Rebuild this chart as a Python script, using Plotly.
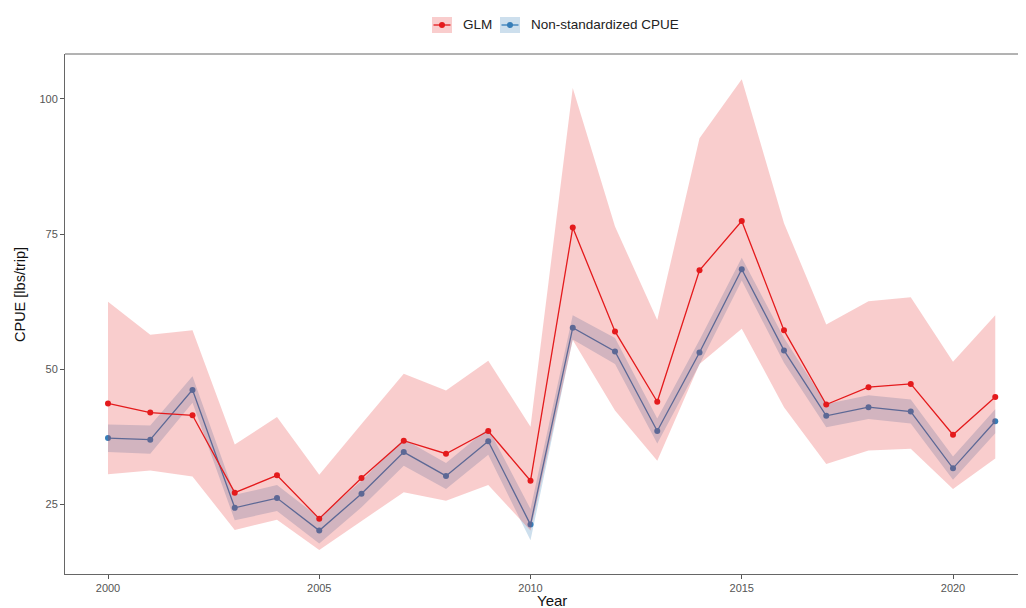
import plotly.graph_objects as go

years = list(range(2000, 2022))

glm = [43.7, 42.0, 41.5, 27.2, 30.4, 22.4, 29.9, 36.8, 34.4, 38.6, 29.4,
       76.2, 57.0, 44.0, 68.3, 77.4, 57.2, 43.5, 46.7, 47.3, 37.9, 44.9]
glm_lower = [30.6, 31.3, 30.2, 20.3, 22.2, 16.6, 21.9, 27.3, 25.7, 28.6, 20.2,
             55.4, 42.4, 33.1, 51.0, 57.5, 43.0, 32.5, 35.0, 35.3, 27.9, 33.5]
glm_upper = [62.5, 56.4, 57.2, 36.1, 41.2, 30.5, 39.9, 49.2, 46.1, 51.6, 39.4,
             102.0, 76.4, 59.1, 92.7, 103.6, 77.0, 58.3, 62.6, 63.3, 51.4, 60.0]

nominal = [37.3, 37.0, 46.2, 24.4, 26.2, 20.2, 27.0, 34.7, 30.3, 36.7, 21.3,
           57.7, 53.3, 38.6, 53.1, 68.5, 53.5, 41.4, 43.0, 42.2, 31.7, 40.4]
nominal_lower = [34.7, 34.4, 43.8, 22.1, 23.8, 17.8, 24.5, 32.2, 27.9, 34.2, 18.4,
                 55.5, 51.0, 36.3, 50.9, 66.4, 51.2, 39.3, 40.8, 40.0, 29.6, 38.2]
nominal_upper = [39.8, 39.6, 48.7, 26.8, 28.6, 22.6, 29.4, 37.1, 32.7, 39.1, 24.2,
                 60.0, 55.8, 40.9, 55.4, 70.6, 55.8, 43.6, 45.2, 44.4, 33.9, 42.6]

x_ticks = [2000, 2005, 2010, 2015, 2020]
y_ticks = [25, 50, 75, 100]

RED = "#E41A1C"
BLUE = "#377EB8"
RED_FILL = "rgba(228,26,28,0.22)"
BLUE_FILL = "rgba(55,126,184,0.25)"
FONT = "Liberation Sans, Arial, Helvetica, sans-serif"

# the page body has an 8px margin; the figure is sized/placed to compensate
OFF = 8
SCREEN_W, SCREEN_H = 1026, 608
W, H = SCREEN_W - OFF, SCREEN_H - OFF
# plot area in screen pixels: left 65, top 54, bottom 574, right beyond edge
ML, MT, MR = 65 - OFF, 54 - OFF, 0
MB = H - (574 - OFF)

fig = go.Figure()

def band(lo, hi, color):
    return go.Scatter(x=years + years[::-1], y=hi + lo[::-1], fill="toself",
                      fillcolor=color, line=dict(width=0), mode="lines",
                      hoverinfo="skip", showlegend=False)

def line(vals, color, name):
    return go.Scatter(x=years, y=vals, mode="lines+markers", name=name,
                      line=dict(color=color, width=1.3),
                      marker=dict(color=color, size=6), showlegend=False)

fig.add_trace(band(nominal_lower, nominal_upper, BLUE_FILL))
fig.add_trace(line(nominal, BLUE, "Non-standardized CPUE"))
fig.add_trace(band(glm_lower, glm_upper, RED_FILL))
fig.add_trace(line(glm, RED, "GLM"))

pw = W - ML - MR
ph = H - MT - MB

def px(sx):
    return (sx - OFF - ML) / pw

def py(sy):
    return (H - MB - (sy - OFF)) / ph

shapes = [
    dict(type="line", xref="paper", yref="paper", x0=0, x1=1, y0=1, y1=1,
         line=dict(color="#666666", width=1)),
]
annotations = [
    dict(text="Year", xref="paper", yref="paper", x=px(552), y=py(600),
         xanchor="center", yanchor="middle", showarrow=False,
         font=dict(family=FONT, size=15, color="#111111")),
    dict(text="CPUE [lbs/trip]", xref="paper", yref="paper", x=px(20), y=py(295),
         xanchor="center", yanchor="middle", showarrow=False, textangle=-90,
         font=dict(family=FONT, size=14.5, color="#111111")),
]
# manual legend
legend_items = [("GLM", RED, RED_FILL, 432), ("Non-standardized CPUE", BLUE, BLUE_FILL, 500)]
for label, col, fillc, x0 in legend_items:
    shapes.append(dict(type="rect", xref="paper", yref="paper",
                       x0=px(x0), x1=px(x0 + 20), y0=py(33), y1=py(17),
                       fillcolor=fillc, line=dict(width=0)))
    shapes.append(dict(type="line", xref="paper", yref="paper",
                       x0=px(x0 + 1.5), x1=px(x0 + 18.5), y0=py(25), y1=py(25),
                       line=dict(color=col, width=1.3)))
    shapes.append(dict(type="circle", xref="paper", yref="paper",
                       x0=px(x0 + 7), x1=px(x0 + 13), y0=py(28), y1=py(22),
                       fillcolor=col, line=dict(width=0)))
    annotations.append(dict(text=label, xref="paper", yref="paper",
                            x=px(x0 + 29), y=py(25), xanchor="left", yanchor="middle",
                            showarrow=False, font=dict(family=FONT, size=13.5, color="#222222")))

# x range: 2000 at screen x=108, 42.25 px per year
x_left = 2000 - (108 - 65) / 42.25
x_right = 2000 + (SCREEN_W - 108) / 42.25

fig.update_layout(
    width=W, height=H,
    margin=dict(l=ML, r=MR, t=MT, b=MB, pad=0),
    paper_bgcolor="white", plot_bgcolor="white",
    showlegend=False,
    shapes=shapes, annotations=annotations,
    xaxis=dict(range=[x_left, x_right], tickvals=x_ticks, ticks="outside",
               ticklen=4, tickcolor="#555555", showgrid=False, zeroline=False,
               showline=True, linecolor="#666666", linewidth=1, automargin=False,
               tickfont=dict(family=FONT, size=11, color="#555555")),
    yaxis=dict(range=[12.17, 108.28], tickvals=y_ticks, ticks="outside",
               ticklen=4, tickcolor="#555555", showgrid=False, zeroline=False,
               showline=True, linecolor="#666666", linewidth=1, automargin=False,
               tickfont=dict(family=FONT, size=11, color="#555555")),
)

fig.write_html("out.html")
